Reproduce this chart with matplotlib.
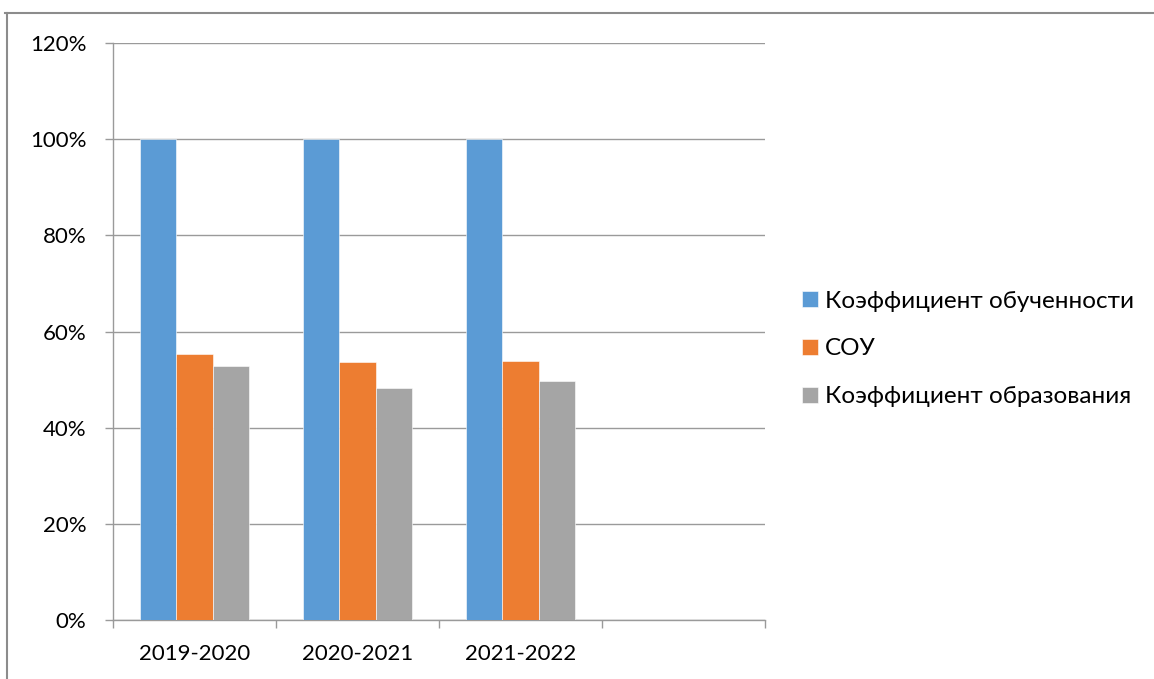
import matplotlib.pyplot as plt
import numpy as np
from matplotlib.lines import Line2D
from matplotlib.ticker import PercentFormatter

# ========================================================================
years = ["2019-2020", "2020-2021", "2021-2022", ""]
series_names = ["Коэффициент обученности", "СОУ", "Коэффициент образования"]
koef_obuch = [100, 100, 100]
sou = [55.4, 53.7, 53.8]
koef_obraz = [52.8, 48.3, 49.8]
colors = ["#5B9BD5", "#ED7D31", "#A5A5A5"]

plt.rcParams['font.family'] = ['Lato', 'DejaVu Sans']

def main():
    fig = plt.figure(figsize=(11.54, 6.79), dpi=100)
    ax = fig.add_axes([113 / 1154, 1 - 620 / 679, (765 - 113) / 1154, (620 - 43) / 679])

    x = np.arange(len(koef_obuch))
    w = 0.223
    for i, (vals, name) in enumerate(zip([koef_obuch, sou, koef_obraz], series_names)):
        ax.bar(x + (i - 1) * w, vals, w, color=colors[i], label=name,
               edgecolor="white", linewidth=0.4, zorder=3)

    ax.set_xlim(-0.5, 3.5)
    ax.set_ylim(0, 120)
    ax.set_yticks(np.arange(0, 121, 20))
    ax.yaxis.set_major_formatter(PercentFormatter(decimals=0))
    ax.grid(axis="y", color="#9A9A9A", linewidth=1, zorder=0)

    # category labels centred, ticks on boundaries
    ax.set_xticks(np.arange(-0.5, 4.0, 1.0))
    ax.set_xticklabels([])
    ax.set_xticks(np.arange(4), minor=True)
    ax.set_xticklabels(years, minor=True)
    ax.tick_params(axis="x", which="minor", length=0, pad=17, labelsize=16)
    ax.tick_params(axis="x", which="major", length=6, color="#9A9A9A", width=1)
    ax.tick_params(axis="y", length=6, color="#9A9A9A", width=1, labelsize=16, pad=13)

    for s in ["top", "right"]:
        ax.spines[s].set_visible(False)
    for s in ["left", "bottom"]:
        ax.spines[s].set_color("#9A9A9A")
        ax.spines[s].set_linewidth(1)

    ax.legend(loc="center left", bbox_to_anchor=(780 / 1154, 1 - 349 / 679),
              bbox_transform=fig.transFigure, frameon=False, fontsize=17.5,
              handlelength=0.65, handleheight=0.65, handletextpad=0.3,
              labelspacing=1.1)

    # outer chart border (cropped)
    fig.add_artist(Line2D([5 / 1154, 1], [1 - 13 / 679, 1 - 13 / 679], color="#8C8C8C", lw=1.5))
    fig.add_artist(Line2D([7 / 1154, 7 / 1154], [0, 1 - 13 / 679], color="#8C8C8C", lw=1.5))

    fig.savefig("out.png", dpi=100)

if __name__ == "__main__":
    main()
